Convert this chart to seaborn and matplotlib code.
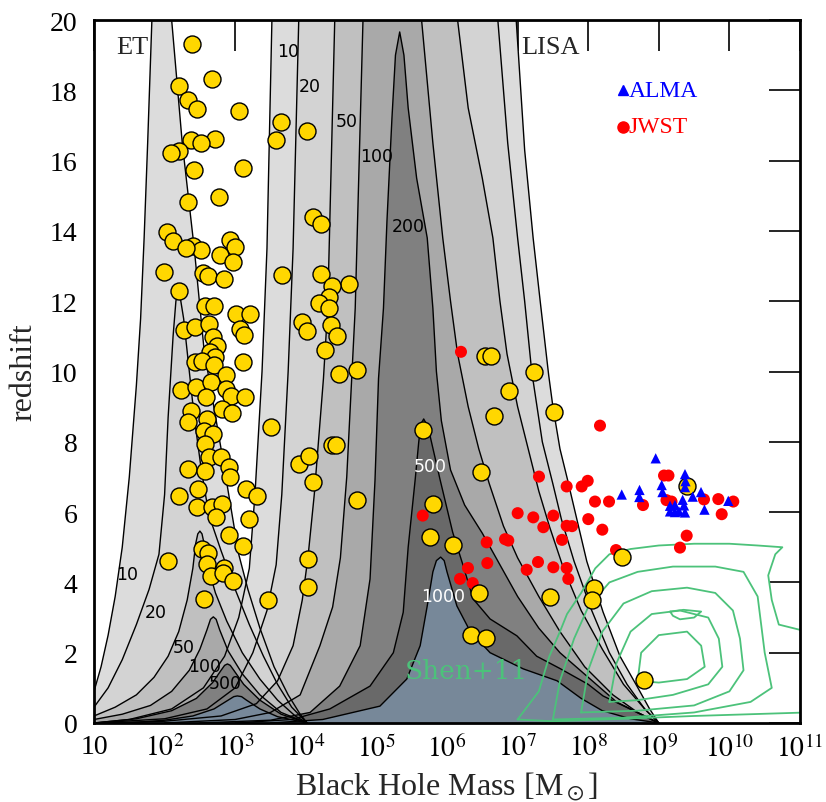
import numpy as np
import matplotlib
matplotlib.use("Agg")
import matplotlib.pyplot as plt
from matplotlib.ticker import FixedLocator, NullLocator
import seaborn as sns
import pandas as pd

# ---------------- data (log10 M, z) ----------------
bh_logm = [2.39, 2.676, 2.208, 2.336, 2.455, 3.054, 3.644, 4.017, 3.578, 2.714, 2.374, 2.511, 2.208, 2.095,
           2.416, 3.115, 2.331, 2.771, 4.106, 4.22, 2.03, 2.115, 2.926, 2.997, 2.398, 2.516, 2.303, 2.789,
           2.973, 1.992, 2.54, 2.619, 2.841, 3.663, 4.215, 4.608, 4.367, 2.2, 4.324, 4.183, 4.333, 2.572,
           2.695, 3.007, 3.21, 3.95, 4.013, 4.361, 4.438, 2.275, 2.431, 2.633, 3.068, 3.125, 2.69, 2.738,
           2.643, 2.714, 4.276, 2.431, 2.525, 2.695, 3.115, 4.721, 4.474, 2.865, 2.237, 2.449, 2.653, 2.582,
           2.865, 2.936, 3.135, 2.37, 2.605, 2.809, 2.95, 2.336, 3.503, 2.558, 2.69, 2.572, 2.629, 2.795,
           2.912, 2.336, 2.572, 2.926, 2.477, 2.204, 3.149, 3.313, 2.455, 2.676, 2.817, 2.724, 3.195, 2.912,
           3.11, 2.534, 2.615, 2.048, 2.605, 2.841, 2.653, 2.831, 2.973, 2.558, 3.469, 3.904, 4.045, 4.106,
           4.367, 4.428, 4.721, 4.035, 4.035, 5.664, 5.797, 5.755, 6.089, 6.458, 6.337, 6.557, 6.878, 6.67,
           7.511, 6.482, 7.459, 6.545, 6.623, 7.232, 8.082, 8.05, 8.475, 8.79, 9.404]
bh_z = [19.32, 18.32, 18.11, 17.72, 17.47, 17.40, 17.11, 16.84, 16.58, 16.61, 16.59, 16.49, 16.28, 16.21,
        15.74, 15.79, 14.83, 14.96, 14.39, 14.19, 13.98, 13.72, 13.74, 13.55, 13.58, 13.47, 13.51, 13.31,
        13.11, 12.82, 12.79, 12.71, 12.63, 12.75, 12.77, 12.49, 12.42, 12.28, 12.13, 11.96, 11.80, 11.87,
        11.87, 11.64, 11.63, 11.42, 11.14, 11.32, 11.02, 11.18, 11.26, 11.35, 11.21, 11.04, 10.97, 10.73,
        10.55, 10.40, 10.60, 10.26, 10.31, 10.19, 10.28, 10.05, 9.93, 9.90, 9.47, 9.57, 9.69, 9.27,
        9.50, 9.31, 9.28, 8.88, 8.65, 8.93, 8.81, 8.55, 8.41, 8.32, 8.22, 7.94, 7.56, 7.56,
        7.27, 7.23, 7.18, 6.99, 6.66, 6.47, 6.66, 6.47, 6.14, 6.14, 6.23, 5.85, 5.80, 5.35,
        5.04, 4.95, 4.84, 4.62, 4.52, 4.40, 4.19, 4.27, 4.05, 3.53, 3.50, 7.37, 7.60, 6.87,
        7.92, 7.92, 6.35, 4.67, 3.86, 8.34, 6.24, 5.28, 5.06, 3.69, 2.50, 2.41, 9.45, 8.72,
        8.86, 7.15, 3.58, 10.45, 10.45, 9.98, 3.83, 3.51, 4.71, 1.23, 6.75]

jwst_logm = [8.167, 7.303, 7.695, 7.908, 7.993, 8.096, 8.295, 8.776, 7.001, 7.222, 7.506, 7.364, 7.695, 7.771,
             8.001, 8.2, 6.562, 6.822, 6.868, 7.629, 6.571, 6.297, 6.184, 6.364, 7.129, 7.289, 7.506, 7.695,
             7.718, 8.394, 9.074, 9.137, 9.109, 9.18, 9.64, 9.843, 9.891, 9.395, 9.3, 10.055, 5.656, 6.198]
jwst_z = [8.46, 7.01, 6.73, 6.73, 6.89, 6.30, 6.30, 6.20, 5.97, 5.85, 5.90, 5.57, 5.61, 5.60,
          5.80, 5.50, 5.14, 5.23, 5.19, 5.21, 4.55, 4.41, 4.10, 3.98, 4.36, 4.58, 4.43, 4.41,
          4.10, 4.92, 7.04, 7.04, 6.34, 6.30, 6.36, 6.37, 5.94, 5.33, 4.99, 6.30, 5.90, 10.56]

alma_logm = [8.956, 9.371, 8.475, 8.727, 8.724, 9.041, 9.052, 9.378, 9.371, 9.48, 9.598, 9.647, 9.984,
             9.159, 9.159, 9.229, 9.286, 9.357, 9.371, 9.338, 9.229]
alma_z = [7.53, 7.08, 6.50, 6.63, 6.43, 6.77, 6.57, 6.88, 6.71, 6.44, 6.57, 6.07, 6.32,
          6.18, 6.02, 6.20, 6.02, 6.19, 5.99, 6.35, 6.00]

x_ticks_exp = [1, 2, 3, 4, 5, 6, 7, 8, 9, 10, 11]
y_ticks = [0, 2, 4, 6, 8, 10, 12, 14, 16, 18, 20]
levels = [10, 20, 50, 100, 200, 500, 1000]

# SNR contour boundaries (log10 M, z): left branch bottom->top, right branch top->bottom
ET10_L = [(1.0, 0.0), (1.0, 0.9), (1.1, 1.6), (1.2, 2.5), (1.3, 3.6), (1.4, 5.0), (1.5, 7.0), (1.6, 9.6),
          (1.66, 11.5), (1.71, 13.8), (1.76, 16.5), (1.82, 20.0)]
ET10_R = [(2.1, 20.0), (2.25, 16.5), (2.42, 13.5), (2.56, 10.6), (2.8, 7.8), (2.95, 6.0), (3.05, 4.8),
          (3.18, 3.8), (3.35, 2.7), (3.55, 1.6), (3.75, 0.8), (3.92, 0.25), (4.02, 0.0)]
ET20_L = [(1.0, 0.0), (1.0, 0.45), (1.2, 1.0), (1.4, 1.8), (1.6, 2.8), (1.78, 3.8), (1.92, 4.8), (2.0, 6.5),
          (2.05, 8.7), (2.12, 11.0), (2.16, 12.0), (2.19, 12.3)]
ET20_R = [(2.19, 12.3), (2.23, 12.0), (2.27, 11.5), (2.35, 10.0), (2.42, 8.7), (2.52, 7.2), (2.63, 5.9),
          (2.8, 4.9), (3.0, 3.8), (3.2, 2.8), (3.4, 1.9), (3.6, 1.1), (3.8, 0.45), (4.02, 0.0)]
ET50_L = [(1.0, 0.0), (1.0, 0.2), (1.3, 0.45), (1.6, 0.8), (1.85, 1.3), (2.05, 1.9), (2.2, 2.6), (2.32, 3.5),
          (2.4, 4.4), (2.44, 5.1), (2.47, 5.38), (2.5, 5.46)]
ET50_R = [(2.5, 5.46), (2.53, 5.38), (2.56, 5.1), (2.62, 4.4), (2.72, 3.7), (2.88, 2.9), (3.1, 2.0),
          (3.35, 1.25), (3.6, 0.65), (3.85, 0.2), (4.02, 0.0)]
ET100_L = [(1.0, 0.0), (1.0, 0.1), (1.4, 0.25), (1.8, 0.5), (2.1, 0.9), (2.35, 1.5), (2.5, 2.1), (2.6, 2.65),
           (2.65, 2.95), (2.69, 3.02)]
ET100_R = [(2.69, 3.02), (2.73, 2.95), (2.78, 2.65), (2.9, 2.05), (3.1, 1.4), (3.35, 0.8), (3.65, 0.3),
           (4.02, 0.0)]
ET500_L = [(1.0, 0.0), (1.6, 0.12), (2.1, 0.35), (2.45, 0.7), (2.68, 1.15), (2.8, 1.5), (2.85, 1.64),
           (2.89, 1.68)]
ET500_R = [(2.89, 1.68), (2.93, 1.64), (2.98, 1.5), (3.12, 1.1), (3.35, 0.65), (3.65, 0.25), (4.02, 0.0)]
ET1000_L = [(1.5, 0.0), (2.0, 0.08), (2.4, 0.2), (2.7, 0.4), (2.9, 0.65), (2.98, 0.75), (3.03, 0.77)]
ET1000_R = [(3.03, 0.77), (3.09, 0.75), (3.16, 0.65), (3.35, 0.4), (3.6, 0.18), (4.02, 0.0)]

LISA10_L = [(1.0, 0.0), (1.5, 0.1), (2.1, 0.4), (2.55, 1.0), (2.85, 1.9), (3.05, 3.0), (3.2, 4.4),
            (3.28, 6.5), (3.38, 10.0), (3.45, 13.5), (3.52, 20.0)]
LISA10_R = [(6.98, 20.0), (7.1, 16.3), (7.22, 13.8), (7.32, 12.0), (7.44, 9.9), (7.5, 9.0), (7.6, 7.8),
            (7.71, 6.9), (7.78, 6.3), (7.98, 4.6), (8.21, 3.16), (8.45, 1.9), (8.69, 1.05), (8.87, 0.4),
            (9.0, 0.0)]
LISA20_L = [(1.0, 0.0), (2.0, 0.12), (2.6, 0.4), (3.0, 1.0), (3.25, 2.0), (3.45, 3.2), (3.58, 4.5),
            (3.66, 6.5), (3.75, 10.0), (3.82, 13.5), (3.9, 20.0)]
LISA20_R = [(6.72, 20.0), (6.86, 16.5), (7.0, 13.8), (7.1, 12.0), (7.2, 10.0), (7.35, 8.0), (7.5, 6.8),
            (7.62, 5.8), (7.8, 4.6), (8.05, 3.2), (8.3, 2.0), (8.55, 1.1), (8.8, 0.4), (9.0, 0.0)]
LISA50_L = [(1.0, 0.0), (2.0, 0.05), (2.8, 0.2), (3.3, 0.55), (3.6, 1.2), (3.82, 2.2), (3.95, 3.5),
            (4.03, 4.7), (4.12, 6.5), (4.25, 9.8), (4.31, 11.8), (4.41, 20.0)]
LISA50_R = [(6.15, 20.0), (6.3, 17.5), (6.5, 15.5), (6.65, 13.8), (6.75, 12.0), (6.85, 10.5), (7.0, 9.0),
            (7.15, 7.8), (7.3, 6.6), (7.45, 5.6), (7.65, 4.4), (7.9, 3.2), (8.2, 2.1), (8.5, 1.1), (8.8, 0.4),
            (9.0, 0.0)]
LISA100_L = [(2.0, 0.0), (3.0, 0.1), (3.5, 0.3), (3.92, 0.8), (4.2, 2.2), (4.38, 3.3), (4.49, 4.7),
             (4.58, 7.0), (4.65, 9.8), (4.7, 11.8), (4.81, 20.0)]
LISA100_R = [(5.64, 20.0), (5.8, 16.5), (5.94, 13.8), (6.05, 12.0), (6.15, 10.5), (6.3, 9.0), (6.45, 7.8),
             (6.6, 6.8), (6.8, 5.6), (7.0, 4.7), (7.3, 3.6), (7.6, 2.6), (7.95, 1.6), (8.35, 0.8), (8.7, 0.3),
             (9.0, 0.0)]
LISA200_L = [(2.5, 0.0), (3.5, 0.08), (4.06, 0.3), (4.48, 1.05), (4.77, 2.2), (4.91, 4.1), (4.98, 6.9),
             (5.03, 9.8), (5.1, 11.8), (5.15, 14.3), (5.22, 17.2), (5.27, 19.0), (5.33, 19.66)]
LISA200_R = [(5.33, 19.66), (5.39, 19.0), (5.45, 17.5), (5.57, 15.5), (5.72, 13.8), (5.8, 11.8), (5.85, 10.0),
             (5.92, 8.6), (6.05, 7.2), (6.25, 6.2), (6.5, 5.4), (6.75, 4.5), (7.0, 3.6), (7.3, 2.7), (7.6, 2.0),
             (8.0, 1.3), (8.4, 0.6), (8.8, 0.2), (9.0, 0.0)]
LISA500_L = [(3.0, 0.0), (3.8, 0.1), (4.34, 0.4), (4.91, 1.05), (5.24, 2.0), (5.38, 3.15), (5.45, 5.0),
             (5.55, 6.94), (5.6, 8.0), (5.63, 8.5), (5.67, 8.65)]
LISA500_R = [(5.67, 8.65), (5.71, 8.5), (5.76, 8.17), (5.9, 6.94), (6.08, 5.43), (6.23, 4.47), (6.37, 3.53),
             (6.61, 2.96), (6.99, 2.48), (7.27, 1.9), (7.6, 1.55), (8.0, 1.1), (8.21, 0.77), (8.59, 0.4),
             (8.99, 0.0)]
LISA1000_L = [(3.5, 0.0), (4.24, 0.1), (5.05, 0.48), (5.43, 1.25), (5.62, 2.2), (5.72, 3.33), (5.8, 4.3),
              (5.85, 4.62), (5.91, 4.72)]
LISA1000_R = [(5.91, 4.72), (5.96, 4.62), (6.0, 4.3), (6.14, 3.33), (6.33, 2.6), (6.61, 2.0), (7.08, 1.54),
              (7.56, 1.2), (7.9, 0.7), (8.2, 0.35), (8.6, 0.12), (9.0, 0.0)]

# Shen+11 quasar density contours (log10 M, z), closed loops
SHEN_A = [(7.0, 0.1), (7.3, 0.9), (7.45, 1.9), (7.6, 2.6), (7.7, 3.1), (7.9, 3.7), (8.1, 4.4), (8.3, 4.8),
          (8.6, 4.95), (9.0, 5.05), (9.5, 5.1), (10.0, 5.1), (10.4, 5.05), (10.75, 5.0), (10.65, 4.8),
          (10.55, 4.2), (10.6, 3.5), (10.7, 2.8), (11.1, 2.6), (11.1, 0.3), (10.3, 0.25), (9.5, 0.2),
          (8.5, 0.12), (7.5, 0.05), (7.0, 0.1)]
SHEN_B = [(7.5, 0.1), (7.6, 1.2), (7.8, 2.4), (8.0, 3.3), (8.3, 4.0), (8.7, 4.3), (9.2, 4.45), (9.8, 4.45),
          (10.2, 4.3), (10.4, 3.6), (10.45, 2.8), (10.5, 2.0), (10.6, 1.0), (10.3, 0.6), (9.5, 0.3),
          (8.5, 0.15), (7.5, 0.1)]
SHEN_C = [(7.9, 0.3), (8.0, 1.5), (8.2, 2.6), (8.5, 3.4), (8.9, 3.75), (9.4, 3.85), (9.8, 3.7), (10.05, 3.2),
          (10.15, 2.4), (10.2, 1.5), (10.0, 0.9), (9.5, 0.5), (8.7, 0.35), (7.9, 0.3)]
SHEN_D = [(8.3, 0.6), (8.4, 1.7), (8.6, 2.6), (8.9, 3.1), (9.3, 3.2), (9.7, 3.0), (9.85, 2.4), (9.9, 1.6),
          (9.7, 1.1), (9.2, 0.8), (8.7, 0.65), (8.3, 0.6)]
SHEN_E = [(8.7, 1.2), (8.75, 2.0), (9.0, 2.5), (9.4, 2.6), (9.6, 2.2), (9.65, 1.6), (9.4, 1.25), (9.0, 1.15),
          (8.7, 1.2)]
SHEN_F = [(9.16, 3.17), (9.35, 3.22), (9.6, 3.17), (9.5, 3.0), (9.3, 2.95), (9.2, 3.05), (9.16, 3.17)]

# contour label positions (log10 M, z, text, colour)
lab_logm = [1.47, 1.88, 2.27, 2.56, 2.86, 3.75, 4.06, 4.58, 5.01, 5.45, 5.76, 5.94]
lab_z = [4.24, 3.16, 2.16, 1.62, 1.14, 19.12, 18.12, 17.13, 16.13, 14.14, 7.31, 3.61]
lab_txt = ["10", "20", "50", "100", "500", "10", "20", "50", "100", "200", "500", "1000"]
lab_col = ["black"] * 10 + ["white", "white"]

# ---------------- style ----------------
sns.set_theme(style="white")
plt.rcParams["font.family"] = ["Liberation Serif", "DejaVu Serif"]
plt.rcParams["mathtext.fontset"] = "stix"

level_colors = {10: "#dcdcdc", 20: "#d3d3d3", 50: "#c0c0c0", 100: "#a9a9a9",
                200: "#808080", 500: "#696969", 1000: "#778899"}
et_shapes = {10: (ET10_L, ET10_R), 20: (ET20_L, ET20_R), 50: (ET50_L, ET50_R),
             100: (ET100_L, ET100_R), 200: (ET500_L, ET500_R), 1000: (ET1000_L, ET1000_R)}
lisa_shapes = {10: (LISA10_L, LISA10_R), 20: (LISA20_L, LISA20_R), 50: (LISA50_L, LISA50_R),
               100: (LISA100_L, LISA100_R), 200: (LISA200_L, LISA200_R), 500: (LISA500_L, LISA500_R),
               1000: (LISA1000_L, LISA1000_R)}

fig = plt.figure(figsize=(8.26, 8.03), dpi=100)
ax = fig.add_axes([94 / 826, 79 / 803, 706 / 826, 703 / 803])
ax.set_xscale("log")
ax.set_xlim(10, 1e11)
ax.set_ylim(0, 20)
ax.set_facecolor("white")


def poly(shape):
    left, right = shape
    pts = list(left) + list(right)
    m = np.array([p[0] for p in pts])
    z = np.array([p[1] for p in pts])
    return 10 ** m, z


# fills, level by level across both detectors
for lev in levels:
    for shapes in (et_shapes, lisa_shapes):
        if lev in shapes:
            x, y = poly(shapes[lev])
            ax.fill(x, y, color=level_colors[lev], lw=0, zorder=1)
# contour lines
for shapes in (et_shapes, lisa_shapes):
    for lev, shp in shapes.items():
        x, y = poly(shp)
        ax.plot(x, y, color="black", lw=1.0, zorder=2, solid_joinstyle="round")

# Shen+11 contours
green = "#4cc27a"
for loop in (SHEN_A, SHEN_B, SHEN_C, SHEN_D, SHEN_E, SHEN_F):
    m = np.array([p[0] for p in loop])
    z = np.array([p[1] for p in loop])
    ax.plot(10 ** m, z, color=green, lw=1.3, zorder=3)

# contour labels
for m, z, t, c in zip(lab_logm, lab_z, lab_txt, lab_col):
    ax.text(10 ** m, z, t, fontsize=12.5, family="DejaVu Sans", color=c, ha="center", va="center", zorder=4)

ax.text(10 ** 6.28, 1.5, "Shen+11", fontsize=19, family="DejaVu Serif", color=green,
        ha="center", va="center", zorder=4)

# points
df_bh = pd.DataFrame({"M": 10 ** np.array(bh_logm), "z": bh_z})
df_jw = pd.DataFrame({"M": 10 ** np.array(jwst_logm), "z": jwst_z})
df_al = pd.DataFrame({"M": 10 ** np.array(alma_logm), "z": alma_z})
sns.scatterplot(data=df_jw, x="M", y="z", ax=ax, s=75, color="red", edgecolor="none", zorder=5, legend=False)
sns.scatterplot(data=df_bh, x="M", y="z", ax=ax, s=150, color="#ffd700", edgecolor="black", linewidth=1.0,
                zorder=6, legend=False)
sns.scatterplot(data=df_al, x="M", y="z", ax=ax, s=55, marker="^", color="blue", edgecolor="none",
                zorder=7, legend=False)

# legend
ax.plot([0.749], [0.900], marker="^", color="blue", ms=6.5, transform=ax.transAxes, zorder=8)
ax.plot([0.749], [0.848], marker="o", color="red", ms=8, transform=ax.transAxes, zorder=8)
ax.text(0.757, 0.900, "ALMA", color="blue", fontsize=17, transform=ax.transAxes, va="center", ha="left")
ax.text(0.757, 0.848, "JWST", color="red", fontsize=17, transform=ax.transAxes, va="center", ha="left")

ax.text(0.055, 0.962, "ET", fontsize=19, transform=ax.transAxes, ha="center", va="center")
ax.text(0.646, 0.962, "LISA", fontsize=19, transform=ax.transAxes, ha="center", va="center")

# axes
ax.xaxis.set_major_locator(FixedLocator([10.0 ** e for e in x_ticks_exp]))
ax.xaxis.set_minor_locator(NullLocator())
ax.set_xticklabels(["10" if e == 1 else r"$10^{%d}$" % e for e in x_ticks_exp])
ax.set_yticks(y_ticks)
ax.set_yticklabels([str(v) for v in y_ticks])
ax.tick_params(which="major", direction="in", length=22, width=1.2, top=True, right=True,
               labelsize=20, colors="black")
ax.tick_params(axis="y", pad=12)
ax.tick_params(axis="x", pad=8)
for s in ax.spines.values():
    s.set_linewidth(2)
    s.set_color("black")
    s.set_zorder(10)
ax.set_xlabel(r"Black Hole Mass [M$_\odot$]", fontsize=23, labelpad=6)
ax.set_ylabel("redshift", fontsize=23, labelpad=8)

fig.savefig("out.png", dpi=100)
